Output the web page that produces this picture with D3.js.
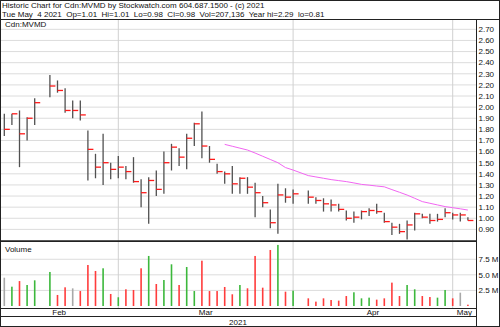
<!DOCTYPE html>
<html>
<head>
<meta charset="utf-8">
<script src="https://cdn.jsdelivr.net/npm/d3@7"></script>
<style>
  body { margin: 0; background: #fff; }
  svg { display: block; font-family: "Liberation Sans", Arial, sans-serif; }
  text { white-space: pre; fill: #111; }
</style>
</head>
<body>
<div id="chart"></div>
<script>
//trading days (Feb 15 and Apr 2 were holidays, they keep an empty slot)
let tradeDates = [
  "2021-02-08","2021-02-09","2021-02-10","2021-02-11","2021-02-12",
  "2021-02-16","2021-02-17","2021-02-18","2021-02-19",
  "2021-02-22","2021-02-23","2021-02-24","2021-02-25","2021-02-26",
  "2021-03-01","2021-03-02","2021-03-03","2021-03-04","2021-03-05",
  "2021-03-08","2021-03-09","2021-03-10","2021-03-11","2021-03-12",
  "2021-03-15","2021-03-16","2021-03-17","2021-03-18","2021-03-19",
  "2021-03-22","2021-03-23","2021-03-24","2021-03-25","2021-03-26",
  "2021-03-29","2021-03-30","2021-03-31","2021-04-01",
  "2021-04-05","2021-04-06","2021-04-07","2021-04-08","2021-04-09",
  "2021-04-12","2021-04-13","2021-04-14","2021-04-15","2021-04-16",
  "2021-04-19","2021-04-20","2021-04-21","2021-04-22","2021-04-23",
  "2021-04-26","2021-04-27","2021-04-28","2021-04-29","2021-04-30",
  "2021-05-03","2021-05-04"
];
let highs = [
  1.94,1.94,1.97,1.91,2.08,
  2.29,2.24,2.17,2.06,
  2.06,1.79,1.58,1.76,1.50,
  1.56,1.47,1.55,1.35,1.37,
  1.43,1.60,1.67,1.63,1.76,
  1.86,1.96,1.65,1.49,1.42,
  1.47,1.37,1.37,1.32,1.20,
  1.08,1.31,1.27,1.26,
  1.25,1.19,1.18,1.17,1.13,
  1.07,1.06,1.07,1.09,1.13,
  1.05,0.96,0.95,0.98,1.05,
  1.04,1.04,1.04,1.09,1.05,
  1.05,1.01
];
let lows = [
  1.74,1.84,1.46,1.70,1.84,
  2.09,2.13,1.95,1.90,
  1.88,1.34,1.36,1.30,1.35,
  1.36,1.35,1.32,1.10,0.95,
  1.20,1.22,1.43,1.47,1.44,
  1.65,1.54,1.50,1.40,1.31,
  1.22,1.22,1.22,1.01,1.10,
  0.91,0.86,1.14,1.13,
  1.13,1.13,1.06,1.06,1.06,
  0.98,0.96,0.99,1.02,1.04,
  0.96,0.85,0.86,0.81,0.89,
  1.00,0.95,0.97,1.01,0.99,
  0.97,0.98
];
let closes = [
  1.80,1.94,1.76,1.90,2.04,
  2.19,2.15,1.97,1.97,
  1.93,1.62,1.46,1.50,1.44,
  1.46,1.42,1.33,1.23,1.34,
  1.26,1.50,1.64,1.55,1.72,
  1.85,1.65,1.53,1.42,1.40,
  1.31,1.36,1.28,1.23,1.14,
  0.96,1.21,1.19,1.22,
  1.19,1.16,1.13,1.12,1.08,
  1.00,1.01,1.06,1.07,1.06,
  0.97,0.92,0.88,0.94,1.04,
  1.01,0.98,0.99,1.05,1.03,
  1.03,0.98
];
//volume in millions of shares
let volumes = [
  4.54,3.10,4.00,3.37,4.12,
  5.46,1.77,3.00,2.83,
  2.40,6.58,5.62,6.05,1.93,
  1.40,2.68,2.57,6.05,8.03,
  3.53,4.17,6.69,3.37,6.26,
  2.40,7.27,2.40,2.40,3.05,
  1.88,3.37,2.84,8.03,2.94,
  8.99,9.80,2.30,2.46,
  1.23,0.70,1.23,0.96,0.86,
  1.60,2.20,1.23,1.34,1.02,
  1.23,3.75,1.60,3.37,2.68,
  1.60,1.44,1.34,2.57,1.23,
  2.14,0.21
];
//moving average line, starts on Mar 19
let maStart = "2021-03-19";
let maValues = [
  1.665,1.648,1.631,1.614,1.587,1.558,1.529,1.500,1.456,1.434,
  1.384,1.372,1.360,1.348,1.339,1.330,1.318,1.305,1.298,1.290,
  1.283,1.258,1.234,1.209,1.180,1.150,1.135,1.120,1.105,1.095,
  1.085,1.074
];

let priceTicks = [0.9,1.0,1.1,1.2,1.3,1.4,1.5,1.6,1.7,1.8,1.9,2.0,2.1,2.2,2.3,2.4,2.5,2.6,2.7];
let volTicks = [2.5, 5.0, 7.5];
let volTickLabels = ["2.5 M", "5.0 M", "7.5 M"];
let monthGrid = ["2021-03-01", "2021-04-01", "2021-04-30"];
let monthLabels = ["Feb", "Mar", "Apr", "May"];

let headerLine1 = "Historic Chart for Cdn:MVMD by Stockwatch.com 604.687.1500 - (c) 2021";
let headerLine2 = "Tue May  4 2021  Op=1.01  Hi=1.01  Lo=0.98  Cl=0.98  Vol=207,136  Year hi=2.29  lo=0.81";

//dimensions
let width = 500, height = 327;
let plotRight = 476;
let headerBottom = 19.5;
let priceBottom = 240.5;
let volTop = 242, volBottom = 306, axisRowTop = 308.5, yearRowTop = 316.5;

let svg = d3.select("#chart")
  .append("svg")
  .attr("width", width)
  .attr("height", height);

svg.append("rect")
  .attr("width", width)
  .attr("height", height)
  .attr("fill", "#fff");

//x: one slot per weekday, so holidays leave a gap
let fmt = d3.timeFormat("%Y-%m-%d");
let parse = d3.timeParse("%Y-%m-%d");
let slots = d3.timeDay.range(parse(tradeDates[0]), d3.timeDay.offset(parse(tradeDates[tradeDates.length - 1]), 1))
  .filter(function(d) { return d.getDay() != 0 && d.getDay() != 6; })
  .map(fmt);

let x = d3.scalePoint()
  .domain(slots)
  .range([4.3, 467.9]);

let y = d3.scaleLinear()
  .domain([0.8, 2.784])
  .range([priceBottom, 20]);

let yVol = d3.scaleLinear()
  .domain([0, 10.35])
  .range([volBottom, 241.5]);

let data = tradeDates.map(function(d, i) {
  return { date: d, high: highs[i], low: lows[i], close: closes[i], vol: volumes[i],
           prev: i > 0 ? closes[i - 1] : null };
});

//grid
svg.append("g")
  .selectAll("line")
  .data(priceTicks)
  .enter()
  .append("line")
  .attr("x1", 0).attr("x2", plotRight)
  .attr("y1", function(d) { return y(d); })
  .attr("y2", function(d) { return y(d); })
  .attr("stroke", "#dcdcdc")
  .attr("stroke-width", 1);

svg.append("g")
  .selectAll("line")
  .data(volTicks)
  .enter()
  .append("line")
  .attr("x1", 0).attr("x2", plotRight)
  .attr("y1", function(d) { return yVol(d); })
  .attr("y2", function(d) { return yVol(d); })
  .attr("stroke", "#dcdcdc");

svg.append("g")
  .selectAll("line")
  .data(monthGrid)
  .enter()
  .append("line")
  .attr("x1", function(d) { return x(d); })
  .attr("x2", function(d) { return x(d); })
  .attr("y1", headerBottom).attr("y2", axisRowTop)
  .attr("stroke", "#d0d0d0");

//volume bars
svg.append("g")
  .selectAll("rect")
  .data(data)
  .enter()
  .append("rect")
  .attr("x", function(d) { return x(d.date) - 0.8; })
  .attr("width", 1.6)
  .attr("y", function(d) { return yVol(d.vol); })
  .attr("height", function(d) { return yVol(0) - yVol(d.vol); })
  .attr("fill", function(d) {
    if (d.prev == null || d.close == d.prev) return "#a8a8a8";
    return d.close > d.prev ? "#3cb83c" : "#ff3c3c";
  });

//price bars: high-low line + close tick
let bars = svg.append("g");
bars.selectAll("line.hl")
  .data(data)
  .enter()
  .append("line")
  .attr("class", "hl")
  .attr("x1", function(d) { return x(d.date); })
  .attr("x2", function(d) { return x(d.date); })
  .attr("y1", function(d) { return y(d.high); })
  .attr("y2", function(d) { return y(d.low); })
  .attr("stroke", "#505050")
  .attr("stroke-width", 1.3);

bars.selectAll("line.cl")
  .data(data)
  .enter()
  .append("line")
  .attr("class", "cl")
  .attr("x1", function(d) { return x(d.date); })
  .attr("x2", function(d) { return x(d.date) + 5.5; })
  .attr("y1", function(d) { return y(d.close); })
  .attr("y2", function(d) { return y(d.close); })
  .attr("stroke", "#ff1a1a")
  .attr("stroke-width", 1.3);

//moving average
let maDates = tradeDates.slice(tradeDates.indexOf(maStart));
let ma = maValues.map(function(v, i) { return { date: maDates[i], value: v }; });
svg.append("path")
  .datum(ma)
  .attr("fill", "none")
  .attr("stroke", "#f266f2")
  .attr("stroke-width", 1)
  .attr("d", d3.line()
    .x(function(d) { return x(d.date); })
    .y(function(d) { return y(d.value); }));

//frame
let frame = svg.append("g").attr("stroke", "#222").attr("fill", "none");
frame.append("rect").attr("x", 0.5).attr("y", 0.5).attr("width", width - 1).attr("height", height - 1);
frame.append("line").attr("x1", 0).attr("x2", width).attr("y1", headerBottom).attr("y2", headerBottom);
frame.append("line").attr("x1", plotRight + 0.5).attr("x2", plotRight + 0.5).attr("y1", headerBottom).attr("y2", height);
frame.append("line").attr("x1", 0).attr("x2", plotRight).attr("y1", 241.2).attr("y2", 241.2).attr("stroke-width", 1.8);
frame.append("line").attr("x1", 0).attr("x2", plotRight).attr("y1", axisRowTop).attr("y2", axisRowTop);
frame.append("line").attr("x1", 0).attr("x2", plotRight).attr("y1", yearRowTop).attr("y2", yearRowTop);

//texts
svg.append("text").attr("x", 2).attr("y", 7.8).attr("font-size", "8px").text(headerLine1);
svg.append("text").attr("x", 2).attr("y", 16.6).attr("font-size", "8px").text(headerLine2);
svg.append("text").attr("x", 5).attr("y", 27.3).attr("font-size", "8px").text("Cdn:MVMD");
svg.append("text").attr("x", 5).attr("y", 251.8).attr("font-size", "8px").text("Volume");

svg.append("g")
  .selectAll("text")
  .data(priceTicks)
  .enter()
  .append("text")
  .attr("x", 478.5)
  .attr("y", function(d) { return y(d); })
  .attr("dy", "0.35em")
  .attr("font-size", "8px")
  .text(function(d) { return d3.format(".2f")(d); });

svg.append("g")
  .selectAll("text")
  .data(volTicks)
  .enter()
  .append("text")
  .attr("x", 478.5)
  .attr("y", function(d) { return yVol(d); })
  .attr("dy", "0.35em")
  .attr("font-size", "8px")
  .text(function(d, i) { return volTickLabels[i]; });

//month names centred between month boundaries
let bounds = [0].concat(monthGrid.map(function(d) { return x(d); }), [plotRight]);
svg.append("g")
  .selectAll("text")
  .data(monthLabels)
  .enter()
  .append("text")
  .attr("x", function(d, i) { return (bounds[i] + bounds[i + 1]) / 2; })
  .attr("y", 315.2)
  .attr("text-anchor", "middle")
  .attr("font-size", "8px")
  .text(function(d) { return d; });

svg.append("text")
  .attr("x", plotRight / 2)
  .attr("y", 324.6)
  .attr("text-anchor", "middle")
  .attr("font-size", "8px")
  .text("2021");
</script>
</body>
</html>
